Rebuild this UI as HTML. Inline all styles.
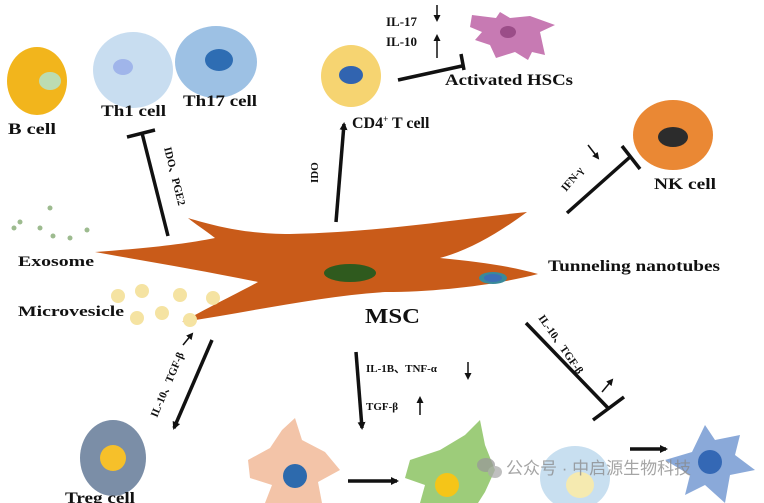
<!DOCTYPE html>
<html><head><meta charset="utf-8"><style>
html,body{margin:0;padding:0;background:#fff;}
svg{display:block;}
text{font-family:"Liberation Serif",serif;font-weight:bold;fill:#111;}
</style></head><body>
<svg width="764" height="503" viewBox="0 0 764 503" xmlns="http://www.w3.org/2000/svg">
<defs>
<marker id="ah" markerWidth="8" markerHeight="8" refX="6" refY="4" orient="auto" markerUnits="userSpaceOnUse"><path d="M0,0 L8,4 L0,8 z" fill="#111"/></marker>
<marker id="ahs" markerWidth="7" markerHeight="7" refX="5" refY="3.5" orient="auto" markerUnits="userSpaceOnUse"><path d="M0,0 L7,3.5 L0,7 z" fill="#111"/></marker>
</defs>

<!-- MSC -->
<path d="M95,252 C150,248 185,244 215,238 C205,230 195,224 188,218 C215,226 245,234 290,234 C380,232 450,220 527,212 C500,232 470,250 440,258 C480,262 510,266 538,274 C500,284 440,292 385,292 C320,296 250,312 182,322 C215,304 240,292 258,282 C200,270 150,262 95,252 Z" fill="#c95b19"/>
<ellipse cx="350" cy="273" rx="26" ry="9" fill="#2f5a1e"/>
<ellipse cx="493" cy="278" rx="14" ry="6" fill="#3a8a9a"/>
<ellipse cx="493" cy="278" rx="9" ry="4" fill="#3d6fb5"/>

<!-- Cells top -->
<ellipse cx="37" cy="81" rx="30" ry="34" fill="#f2b51c"/>
<ellipse cx="50" cy="81" rx="11" ry="9" fill="#bcdcb2"/>
<ellipse cx="133" cy="70" rx="40" ry="38" fill="#c8ddf0"/>
<ellipse cx="123" cy="67" rx="10" ry="8" fill="#a0b5ea"/>
<ellipse cx="216" cy="62" rx="41" ry="36" fill="#9dc1e4"/>
<ellipse cx="219" cy="60" rx="14" ry="11" fill="#2e6db3"/>
<ellipse cx="351" cy="76" rx="30" ry="31" fill="#f6d471"/>
<ellipse cx="351" cy="75" rx="12" ry="9" fill="#3164b0"/>
<path d="M472,15 L496,18 L500,12 L510,18 L530,16 L555,25 L540,32 L545,55 L532,52 L528,60 L515,52 L496,58 L490,45 L475,40 L482,32 L470,27 Z" fill="#c77ab3"/>
<ellipse cx="508" cy="32" rx="8" ry="6" fill="#9b4d88"/>
<ellipse cx="673" cy="135" rx="40" ry="35" fill="#ea8834"/>
<ellipse cx="673" cy="137" rx="15" ry="10" fill="#2c2c2c"/>

<!-- Exosome dots -->
<g fill="#9dbb8f">
<circle cx="50" cy="208" r="2.5"/><circle cx="20" cy="222" r="2.5"/><circle cx="14" cy="228" r="2.5"/><circle cx="40" cy="228" r="2.5"/><circle cx="53" cy="236" r="2.5"/><circle cx="70" cy="238" r="2.5"/><circle cx="87" cy="230" r="2.5"/>
</g>
<g fill="#f5e3a2">
<circle cx="118" cy="296" r="7"/><circle cx="142" cy="291" r="7"/><circle cx="180" cy="295" r="7"/><circle cx="213" cy="298" r="7"/><circle cx="137" cy="318" r="7"/><circle cx="162" cy="313" r="7"/><circle cx="190" cy="320" r="7"/>
</g>

<!-- Bottom cells -->
<ellipse cx="113" cy="458" rx="33" ry="38" fill="#7b8ea7"/>
<circle cx="113" cy="458" r="13" fill="#f6c02a"/>
<path d="M248,460 L270,448 L282,430 L295,418 L302,440 L325,452 L340,470 L318,482 L322,503 L265,503 L272,485 L250,478 Z" fill="#f3c4a8"/>
<circle cx="295" cy="476" r="12" fill="#2d6aad"/>
<path d="M410,460 L440,450 L465,435 L480,420 L485,445 L495,470 L485,492 L478,503 L420,503 L425,485 L405,478 Z" fill="#9dcc7a"/>
<circle cx="447" cy="485" r="12" fill="#f5c518"/>
<ellipse cx="575" cy="478" rx="35" ry="32" fill="#c8dff0"/>
<ellipse cx="580" cy="485" rx="14" ry="13" fill="#f5eab0"/>
<path d="M705,425 L715,440 L740,435 L735,455 L755,470 L730,475 L725,503 L705,485 L685,495 L690,475 L665,460 L692,452 Z" fill="#8aa9d9"/>
<circle cx="710" cy="462" r="12" fill="#3468b5"/>

<!-- Connectors -->
<g stroke="#111" stroke-width="3.5" fill="none">
<line x1="168" y1="236" x2="142" y2="133"/><line x1="127" y1="137" x2="155" y2="130"/>
<line x1="336" y1="222" x2="344" y2="124" marker-end="url(#ah)"/>
<line x1="398" y1="80" x2="462" y2="66"/><line x1="461" y1="54" x2="464" y2="70"/>
<line x1="567" y1="213" x2="630" y2="157"/><line x1="622" y1="146" x2="640" y2="169"/>
<line x1="212" y1="340" x2="174" y2="428" marker-end="url(#ah)"/>
<line x1="356" y1="352" x2="362" y2="428" marker-end="url(#ah)"/>
<line x1="526" y1="323" x2="608" y2="408"/><line x1="593" y1="420" x2="624" y2="397"/>
<line x1="348" y1="481" x2="397" y2="481" marker-end="url(#ah)"/>
<line x1="630" y1="449" x2="666" y2="449" marker-end="url(#ah)"/>
</g>
<g stroke="#111" stroke-width="1.5" fill="none">
<line x1="437" y1="5" x2="437" y2="20" marker-end="url(#ahs)"/>
<line x1="437" y1="58" x2="437" y2="36" marker-end="url(#ahs)"/>
<line x1="588" y1="145" x2="598" y2="158" marker-end="url(#ahs)"/>
<line x1="468" y1="362" x2="468" y2="378" marker-end="url(#ahs)"/>
<line x1="420" y1="415" x2="420" y2="398" marker-end="url(#ahs)"/>
<line x1="602" y1="392" x2="612" y2="380" marker-end="url(#ahs)"/>
<line x1="183" y1="345" x2="192" y2="334" marker-end="url(#ahs)"/>
</g>

<!-- Labels -->
<text x="8" y="134" font-size="16" textLength="48" lengthAdjust="spacingAndGlyphs">B cell</text>
<text x="101" y="116" font-size="16" textLength="65" lengthAdjust="spacingAndGlyphs">Th1 cell</text>
<text x="183" y="106" font-size="16" textLength="74" lengthAdjust="spacingAndGlyphs">Th17 cell</text>
<text x="352" y="128" font-size="16">CD4<tspan font-size="9" dy="-6">+</tspan><tspan dy="6">  T cell</tspan></text>
<text x="386" y="26" font-size="13">IL-17</text>
<text x="386" y="46" font-size="13">IL-10</text>
<text x="445" y="85" font-size="16" textLength="128" lengthAdjust="spacingAndGlyphs">Activated HSCs</text>
<text x="654" y="189" font-size="16" textLength="62" lengthAdjust="spacingAndGlyphs">NK cell</text>
<text x="18" y="266" font-size="15" textLength="76" lengthAdjust="spacingAndGlyphs">Exosome</text>
<text x="18" y="316" font-size="15" textLength="106" lengthAdjust="spacingAndGlyphs">Microvesicle</text>
<text x="548" y="271" font-size="16" textLength="172" lengthAdjust="spacingAndGlyphs">Tunneling nanotubes</text>
<text x="365" y="323" font-size="21" textLength="55" lengthAdjust="spacingAndGlyphs">MSC</text>
<text x="65" y="503" font-size="16" textLength="70" lengthAdjust="spacingAndGlyphs">Treg cell</text>
<text font-size="11" transform="translate(164,148) rotate(76)">IDO、PGE2</text>
<text font-size="11" transform="translate(318,183) rotate(-90)">IDO</text>
<text font-size="11" transform="translate(566,192) rotate(-50)">IFN-γ</text>
<text font-size="11" transform="translate(157,418) rotate(-67)">IL-10、TGF-β</text>
<text font-size="11" transform="translate(538,318) rotate(55)">IL-10、TGF-β</text>
<text x="366" y="372" font-size="11">IL-1B、TNF-α</text>
<text x="366" y="410" font-size="11">TGF-β</text>

<!-- watermark -->
<g opacity="0.75">
<ellipse cx="486" cy="465" rx="9" ry="7" fill="#999"/>
<ellipse cx="495" cy="472" rx="7" ry="6" fill="#aaa"/>
<text x="506" y="474" font-size="17" style="font-family:'Liberation Sans','Noto Sans CJK SC',sans-serif;font-weight:normal;fill:#888">公众号 · 中启源生物科技</text>
</g>
</svg>
</body></html>
